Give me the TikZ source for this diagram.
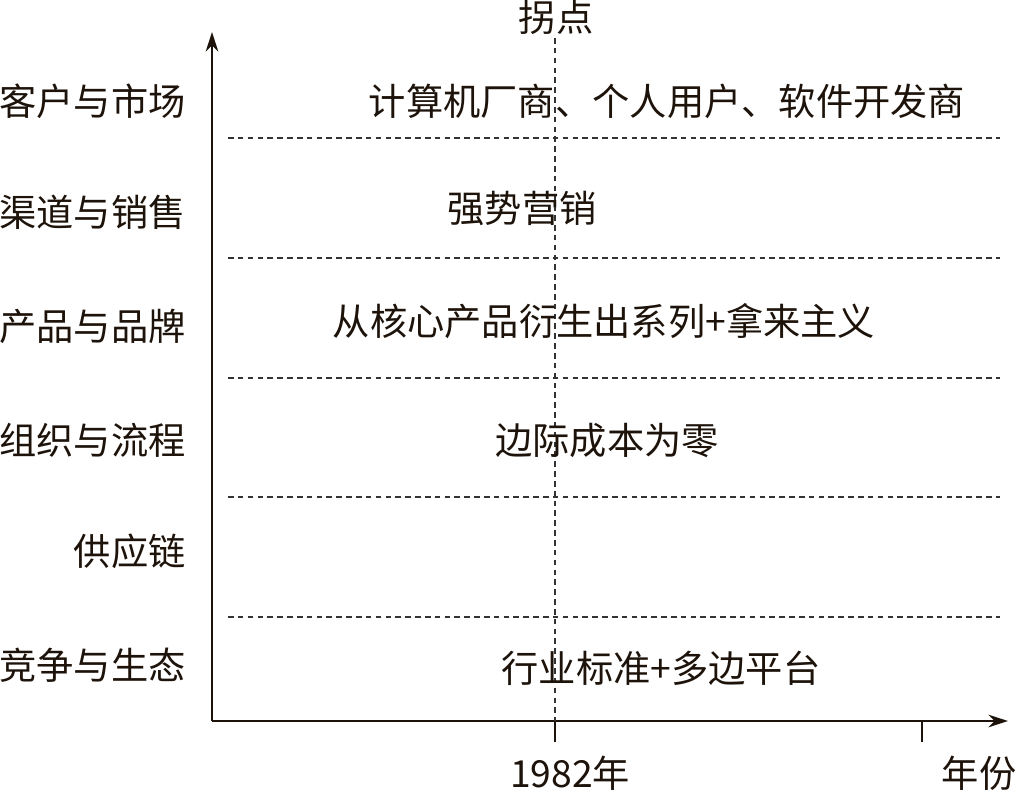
\documentclass[tikz,border=0pt]{standalone}
\usepackage{fontspec}
\setmainfont{Noto Sans CJK SC}
\usetikzlibrary{arrows.meta, positioning}

\begin{document}
\begin{tikzpicture}[
    x=0.025cm, y=-0.025cm,
    >={Stealth[length=14pt, width=9pt]},
    axis/.style={line width=1.5pt, draw=black!85!brown},
    grid/.style={line width=0.8pt, draw=black!80, dash pattern=on 4pt off 3pt},
    rowlabel/.style={anchor=east, inner sep=0pt, font=\fontsize{26.5}{30}\selectfont, text=black!85!brown},
    item/.style={inner sep=0pt, font=\fontsize{26.5}{30}\selectfont, text=black!85!brown}
]
\useasboundingbox (0,0) rectangle (1017,794);

% Axes
\coordinate (O) at (212,721);
\coordinate (YTop) at (212,32);
\coordinate (XEnd) at (1008,721);
\draw[axis, ->] (O) -- (YTop);
\draw[axis, ->] (O) -- (XEnd);

% Ticks
\coordinate (T1) at (555,721);
\coordinate (T1b) at (555,742);
\coordinate (T2) at (922,721);
\coordinate (T2b) at (922,742);
\draw[axis, line width=1.2pt] (T1) -- (T1b);
\draw[axis, line width=1.2pt] (T2) -- (T2b);

% Turning point
\node[item] (Turn) at (556,17) {拐点};
\coordinate (TurnTop) at (555,38);
\draw[grid] (TurnTop) -- (T1);

% Row separators
\foreach \y in {138, 258, 378, 497, 617} {
    \coordinate (L\y) at (228,\y);
    \coordinate (R\y) at (1000,\y);
    \draw[grid] (L\y) -- (R\y);
}

% Row labels
\node[rowlabel] (Market) at (186,101) {客户与市场};
\node[rowlabel] (Sales) at (186,212) {渠道与销售};
\node[rowlabel] (Brand) at (186,326) {产品与品牌};
\node[rowlabel] (Process) at (186,440) {组织与流程};
\node[rowlabel] (Supply) at (186,551) {供应链};
\node[rowlabel] (Eco) at (186,665) {竞争与生态};

% Contents
\node[item] (MarketTxt) at (667,101) {计算机厂商、个人用户、软件开发商};
\node[item] (SalesTxt) at (522,208) {强势营销};
\node[item] (BrandTxt) at (604,321) {从核心产品衍生出系列+拿来主义};
\node[item] (ProcessTxt) at (607,441) {边际成本为零};
\node[item] (EcoTxt) at (661,668) {行业标准+多边平台};

% Axis labels
\node[item] (Year) at (570,773) {1982年};
\node[item] (YearAxis) at (979,773) {年份};
\end{tikzpicture}
\end{document}
